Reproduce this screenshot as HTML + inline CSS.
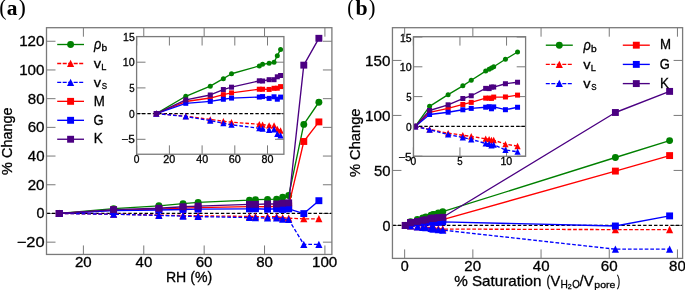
<!DOCTYPE html>
<html><head><meta charset="utf-8"><style>
html,body{margin:0;padding:0;background:#fff;}
body{width:685px;height:290px;overflow:hidden;}
svg{display:block;will-change:transform;font-family:"Liberation Sans",sans-serif;}
text{stroke:#000;stroke-width:0.3px;}
text.n{stroke:none;}
</style></head><body>
<svg width="685" height="290" viewBox="0 0 685 290">
<rect width="685" height="290" fill="#fff"/>
<defs><clipPath id="ca"><rect x="46.5" y="27.7" width="285.4" height="226.75"/></clipPath><clipPath id="cia"><rect x="136.6" y="36.6" width="147.3" height="117.65"/></clipPath><clipPath id="cb"><rect x="392.45" y="27.7" width="290.15" height="230.7"/></clipPath><clipPath id="cib"><rect x="413.5" y="36.7" width="112.1" height="119.6"/></clipPath></defs>
<line x1="83.4" y1="254.45" x2="83.4" y2="245.45" stroke="#7a7a7a" stroke-width="1"/><line x1="83.4" y1="27.7" x2="83.4" y2="36.7" stroke="#7a7a7a" stroke-width="1"/><line x1="143.78" y1="254.45" x2="143.78" y2="245.45" stroke="#7a7a7a" stroke-width="1"/><line x1="143.78" y1="27.7" x2="143.78" y2="36.7" stroke="#7a7a7a" stroke-width="1"/><line x1="204.16" y1="254.45" x2="204.16" y2="245.45" stroke="#7a7a7a" stroke-width="1"/><line x1="204.16" y1="27.7" x2="204.16" y2="36.7" stroke="#7a7a7a" stroke-width="1"/><line x1="264.54" y1="254.45" x2="264.54" y2="245.45" stroke="#7a7a7a" stroke-width="1"/><line x1="264.54" y1="27.7" x2="264.54" y2="36.7" stroke="#7a7a7a" stroke-width="1"/><line x1="324.92" y1="254.45" x2="324.92" y2="245.45" stroke="#7a7a7a" stroke-width="1"/><line x1="324.92" y1="27.7" x2="324.92" y2="36.7" stroke="#7a7a7a" stroke-width="1"/><line x1="46.5" y1="242.16" x2="55.5" y2="242.16" stroke="#7a7a7a" stroke-width="1"/><line x1="331.9" y1="242.16" x2="322.9" y2="242.16" stroke="#7a7a7a" stroke-width="1"/><line x1="46.5" y1="213.46" x2="55.5" y2="213.46" stroke="#7a7a7a" stroke-width="1"/><line x1="331.9" y1="213.46" x2="322.9" y2="213.46" stroke="#7a7a7a" stroke-width="1"/><line x1="46.5" y1="184.76" x2="55.5" y2="184.76" stroke="#7a7a7a" stroke-width="1"/><line x1="331.9" y1="184.76" x2="322.9" y2="184.76" stroke="#7a7a7a" stroke-width="1"/><line x1="46.5" y1="156.06" x2="55.5" y2="156.06" stroke="#7a7a7a" stroke-width="1"/><line x1="331.9" y1="156.06" x2="322.9" y2="156.06" stroke="#7a7a7a" stroke-width="1"/><line x1="46.5" y1="127.36" x2="55.5" y2="127.36" stroke="#7a7a7a" stroke-width="1"/><line x1="331.9" y1="127.36" x2="322.9" y2="127.36" stroke="#7a7a7a" stroke-width="1"/><line x1="46.5" y1="98.66" x2="55.5" y2="98.66" stroke="#7a7a7a" stroke-width="1"/><line x1="331.9" y1="98.66" x2="322.9" y2="98.66" stroke="#7a7a7a" stroke-width="1"/><line x1="46.5" y1="69.96" x2="55.5" y2="69.96" stroke="#7a7a7a" stroke-width="1"/><line x1="331.9" y1="69.96" x2="322.9" y2="69.96" stroke="#7a7a7a" stroke-width="1"/><line x1="46.5" y1="41.26" x2="55.5" y2="41.26" stroke="#7a7a7a" stroke-width="1"/><line x1="331.9" y1="41.26" x2="322.9" y2="41.26" stroke="#7a7a7a" stroke-width="1"/><g clip-path="url(#ca)"><line x1="46.5" y1="213.46" x2="331.9" y2="213.46" stroke="#000" stroke-width="1.3" stroke-dasharray="3.4 2.05"/><polyline points="59.25,213.46 113.59,208.62 158.88,205.81 183.03,203.7 198.12,202.34 249.45,200.14 255.48,199.7 267.56,199.4 276.62,199.11 282.65,197.3 288.69,195.54 303.79,124.4 318.88,102.25" fill="none" stroke="#008000" stroke-width="1.35" stroke-linejoin="round"/><circle cx="59.25" cy="213.46" r="3.45" fill="#008000"/><circle cx="113.59" cy="208.62" r="3.45" fill="#008000"/><circle cx="158.88" cy="205.81" r="3.45" fill="#008000"/><circle cx="183.03" cy="203.7" r="3.45" fill="#008000"/><circle cx="198.12" cy="202.34" r="3.45" fill="#008000"/><circle cx="249.45" cy="200.14" r="3.45" fill="#008000"/><circle cx="255.48" cy="199.7" r="3.45" fill="#008000"/><circle cx="267.56" cy="199.4" r="3.45" fill="#008000"/><circle cx="276.62" cy="199.11" r="3.45" fill="#008000"/><circle cx="282.65" cy="197.3" r="3.45" fill="#008000"/><circle cx="288.69" cy="195.54" r="3.45" fill="#008000"/><circle cx="303.79" cy="124.4" r="3.45" fill="#008000"/><circle cx="318.88" cy="102.25" r="3.45" fill="#008000"/><polyline points="59.25,213.46 113.59,214.18 158.88,215.1 183.03,215.58 198.12,215.86 249.45,216.44 255.48,216.56 267.56,216.76 276.62,216.76 282.65,217.74 288.69,218.21 303.79,218.84 318.88,218.84" fill="none" stroke="#ff0000" stroke-width="1.35" stroke-linejoin="round" stroke-dasharray="3.7 1.9"/><path d="M59.25 209.69L55.66 216.98L62.84 216.98Z" fill="#ff0000"/><path d="M113.59 210.41L110 217.69L117.18 217.69Z" fill="#ff0000"/><path d="M158.88 211.33L155.29 218.61L162.46 218.61Z" fill="#ff0000"/><path d="M183.03 211.82L179.44 219.1L186.62 219.1Z" fill="#ff0000"/><path d="M198.12 212.09L194.53 219.37L201.71 219.37Z" fill="#ff0000"/><path d="M249.45 212.68L245.86 219.96L253.03 219.96Z" fill="#ff0000"/><path d="M255.48 212.79L251.9 220.08L259.07 220.08Z" fill="#ff0000"/><path d="M267.56 212.99L263.97 220.28L271.15 220.28Z" fill="#ff0000"/><path d="M276.62 212.99L273.03 220.28L280.2 220.28Z" fill="#ff0000"/><path d="M282.65 213.97L279.07 221.25L286.24 221.25Z" fill="#ff0000"/><path d="M288.69 214.44L285.1 221.73L292.28 221.73Z" fill="#ff0000"/><path d="M303.79 215.07L300.2 222.36L307.38 222.36Z" fill="#ff0000"/><path d="M318.88 215.07L315.29 222.36L322.47 222.36Z" fill="#ff0000"/><polyline points="59.25,213.46 113.59,214.26 158.88,215.41 183.03,216.13 198.12,216.59 249.45,217.56 255.48,217.71 267.56,218.05 276.62,217.87 282.65,219.13 288.69,219.57 303.79,244.4 318.88,244.4" fill="none" stroke="#0000ff" stroke-width="1.35" stroke-linejoin="round" stroke-dasharray="3.7 1.9"/><path d="M59.25 209.69L55.66 216.98L62.84 216.98Z" fill="#0000ff"/><path d="M113.59 210.5L110 217.78L117.18 217.78Z" fill="#0000ff"/><path d="M158.88 211.64L155.29 218.93L162.46 218.93Z" fill="#0000ff"/><path d="M183.03 212.36L179.44 219.65L186.62 219.65Z" fill="#0000ff"/><path d="M198.12 212.82L194.53 220.1L201.71 220.1Z" fill="#0000ff"/><path d="M249.45 213.8L245.86 221.08L253.03 221.08Z" fill="#0000ff"/><path d="M255.48 213.94L251.9 221.22L259.07 221.22Z" fill="#0000ff"/><path d="M267.56 214.28L263.97 221.57L271.15 221.57Z" fill="#0000ff"/><path d="M276.62 214.1L273.03 221.38L280.2 221.38Z" fill="#0000ff"/><path d="M282.65 215.36L279.07 222.64L286.24 222.64Z" fill="#0000ff"/><path d="M288.69 215.81L285.1 223.09L292.28 223.09Z" fill="#0000ff"/><path d="M303.79 240.63L300.2 247.91L307.38 247.91Z" fill="#0000ff"/><path d="M318.88 240.63L315.29 247.91L322.47 247.91Z" fill="#0000ff"/><polyline points="59.25,213.46 113.59,210.09 158.88,209.11 183.03,208.18 198.12,207.68 249.45,206.66 255.48,206.66 267.56,206.72 276.62,206.4 282.65,206.37 288.69,205.93 303.79,141.49 318.88,121.91" fill="none" stroke="#ff0000" stroke-width="1.35" stroke-linejoin="round"/><rect x="55.8" y="210.01" width="6.9" height="6.9" fill="#ff0000"/><rect x="110.14" y="206.64" width="6.9" height="6.9" fill="#ff0000"/><rect x="155.43" y="205.66" width="6.9" height="6.9" fill="#ff0000"/><rect x="179.58" y="204.73" width="6.9" height="6.9" fill="#ff0000"/><rect x="194.67" y="204.23" width="6.9" height="6.9" fill="#ff0000"/><rect x="246" y="203.21" width="6.9" height="6.9" fill="#ff0000"/><rect x="252.03" y="203.21" width="6.9" height="6.9" fill="#ff0000"/><rect x="264.11" y="203.27" width="6.9" height="6.9" fill="#ff0000"/><rect x="273.17" y="202.95" width="6.9" height="6.9" fill="#ff0000"/><rect x="279.2" y="202.92" width="6.9" height="6.9" fill="#ff0000"/><rect x="285.24" y="202.48" width="6.9" height="6.9" fill="#ff0000"/><rect x="300.34" y="138.04" width="6.9" height="6.9" fill="#ff0000"/><rect x="315.43" y="118.46" width="6.9" height="6.9" fill="#ff0000"/><polyline points="59.25,213.46 113.59,210.59 158.88,210.04 183.03,209.46 198.12,209.13 249.45,208.84 255.48,208.71 267.56,209.21 276.62,208.77 282.65,209.44 288.69,208.85 303.79,213.6 318.88,200.69" fill="none" stroke="#0000ff" stroke-width="1.35" stroke-linejoin="round"/><rect x="55.8" y="210.01" width="6.9" height="6.9" fill="#0000ff"/><rect x="110.14" y="207.14" width="6.9" height="6.9" fill="#0000ff"/><rect x="155.43" y="206.59" width="6.9" height="6.9" fill="#0000ff"/><rect x="179.58" y="206.01" width="6.9" height="6.9" fill="#0000ff"/><rect x="194.67" y="205.68" width="6.9" height="6.9" fill="#0000ff"/><rect x="246" y="205.39" width="6.9" height="6.9" fill="#0000ff"/><rect x="252.03" y="205.26" width="6.9" height="6.9" fill="#0000ff"/><rect x="264.11" y="205.76" width="6.9" height="6.9" fill="#0000ff"/><rect x="273.17" y="205.32" width="6.9" height="6.9" fill="#0000ff"/><rect x="279.2" y="205.99" width="6.9" height="6.9" fill="#0000ff"/><rect x="285.24" y="205.4" width="6.9" height="6.9" fill="#0000ff"/><rect x="300.34" y="210.15" width="6.9" height="6.9" fill="#0000ff"/><rect x="315.43" y="197.24" width="6.9" height="6.9" fill="#0000ff"/><polyline points="59.25,213.46 113.59,209.63 158.88,208.27 183.03,206.74 198.12,206.08 249.45,204.3 255.48,204.36 267.56,203.99 276.62,203.99 282.65,203.19 288.69,202.83 303.79,65.15 318.88,38.3" fill="none" stroke="#4b0082" stroke-width="1.35" stroke-linejoin="round"/><rect x="55.8" y="210.01" width="6.9" height="6.9" fill="#4b0082"/><rect x="110.14" y="206.18" width="6.9" height="6.9" fill="#4b0082"/><rect x="155.43" y="204.82" width="6.9" height="6.9" fill="#4b0082"/><rect x="179.58" y="203.29" width="6.9" height="6.9" fill="#4b0082"/><rect x="194.67" y="202.63" width="6.9" height="6.9" fill="#4b0082"/><rect x="246" y="200.85" width="6.9" height="6.9" fill="#4b0082"/><rect x="252.03" y="200.91" width="6.9" height="6.9" fill="#4b0082"/><rect x="264.11" y="200.54" width="6.9" height="6.9" fill="#4b0082"/><rect x="273.17" y="200.54" width="6.9" height="6.9" fill="#4b0082"/><rect x="279.2" y="199.74" width="6.9" height="6.9" fill="#4b0082"/><rect x="285.24" y="199.38" width="6.9" height="6.9" fill="#4b0082"/><rect x="300.34" y="61.7" width="6.9" height="6.9" fill="#4b0082"/><rect x="315.43" y="34.85" width="6.9" height="6.9" fill="#4b0082"/></g><rect x="46.5" y="27.7" width="285.4" height="226.75" fill="none" stroke="#7a7a7a" stroke-width="1.3"/><text x="74.94" y="266.66" font-size="14.2" textLength="16.75" lengthAdjust="spacingAndGlyphs">20</text><text x="135.57" y="266.66" font-size="14.2" textLength="16.67" lengthAdjust="spacingAndGlyphs">40</text><text x="195.67" y="266.66" font-size="14.2" textLength="16.81" lengthAdjust="spacingAndGlyphs">60</text><text x="256.15" y="266.66" font-size="14.2" textLength="16.72" lengthAdjust="spacingAndGlyphs">80</text><text x="311.98" y="266.66" font-size="14.2" textLength="25.31" lengthAdjust="spacingAndGlyphs">100</text><text x="16.73" y="247.19" font-size="14.2" textLength="27.81" lengthAdjust="spacingAndGlyphs">−20</text><text x="36.49" y="218.49" font-size="14.2" textLength="7.97" lengthAdjust="spacingAndGlyphs">0</text><text x="27.74" y="189.79" font-size="14.2" textLength="16.75" lengthAdjust="spacingAndGlyphs">20</text><text x="27.82" y="161.09" font-size="14.2" textLength="16.67" lengthAdjust="spacingAndGlyphs">40</text><text x="27.68" y="132.39" font-size="14.2" textLength="16.81" lengthAdjust="spacingAndGlyphs">60</text><text x="27.77" y="103.69" font-size="14.2" textLength="16.72" lengthAdjust="spacingAndGlyphs">80</text><text x="19.18" y="74.99" font-size="14.2" textLength="25.31" lengthAdjust="spacingAndGlyphs">100</text><text x="19.18" y="46.29" font-size="14.2" textLength="25.31" lengthAdjust="spacingAndGlyphs">120</text><rect x="136.6" y="36.6" width="147.3" height="117.65" fill="#fff"/><line x1="136.7" y1="154.25" x2="136.7" y2="145.35" stroke="#7a7a7a" stroke-width="1"/><line x1="136.7" y1="36.6" x2="136.7" y2="45.5" stroke="#7a7a7a" stroke-width="1"/><line x1="169.4" y1="154.25" x2="169.4" y2="145.35" stroke="#7a7a7a" stroke-width="1"/><line x1="169.4" y1="36.6" x2="169.4" y2="45.5" stroke="#7a7a7a" stroke-width="1"/><line x1="202.1" y1="154.25" x2="202.1" y2="145.35" stroke="#7a7a7a" stroke-width="1"/><line x1="202.1" y1="36.6" x2="202.1" y2="45.5" stroke="#7a7a7a" stroke-width="1"/><line x1="234.8" y1="154.25" x2="234.8" y2="145.35" stroke="#7a7a7a" stroke-width="1"/><line x1="234.8" y1="36.6" x2="234.8" y2="45.5" stroke="#7a7a7a" stroke-width="1"/><line x1="267.5" y1="154.25" x2="267.5" y2="145.35" stroke="#7a7a7a" stroke-width="1"/><line x1="267.5" y1="36.6" x2="267.5" y2="45.5" stroke="#7a7a7a" stroke-width="1"/><line x1="136.6" y1="139.3" x2="145.5" y2="139.3" stroke="#7a7a7a" stroke-width="1"/><line x1="283.9" y1="139.3" x2="275" y2="139.3" stroke="#7a7a7a" stroke-width="1"/><line x1="136.6" y1="113.6" x2="145.5" y2="113.6" stroke="#7a7a7a" stroke-width="1"/><line x1="283.9" y1="113.6" x2="275" y2="113.6" stroke="#7a7a7a" stroke-width="1"/><line x1="136.6" y1="87.9" x2="145.5" y2="87.9" stroke="#7a7a7a" stroke-width="1"/><line x1="283.9" y1="87.9" x2="275" y2="87.9" stroke="#7a7a7a" stroke-width="1"/><line x1="136.6" y1="62.2" x2="145.5" y2="62.2" stroke="#7a7a7a" stroke-width="1"/><line x1="283.9" y1="62.2" x2="275" y2="62.2" stroke="#7a7a7a" stroke-width="1"/><line x1="136.6" y1="36.5" x2="145.5" y2="36.5" stroke="#7a7a7a" stroke-width="1"/><line x1="283.9" y1="36.5" x2="275" y2="36.5" stroke="#7a7a7a" stroke-width="1"/><g clip-path="url(#cia)"><line x1="136.6" y1="113.6" x2="283.9" y2="113.6" stroke="#000" stroke-width="1.1" stroke-dasharray="3.4 2"/><polyline points="156.32,113.6 185.75,96.28 210.27,86.2 223.35,78.65 231.53,73.76 259.32,65.9 262.59,64.31 269.13,63.23 274.04,62.2 277.31,55.72 280.58,49.4" fill="none" stroke="#008000" stroke-width="1.35" stroke-linejoin="round"/><circle cx="156.32" cy="113.6" r="2.5" fill="#008000"/><circle cx="185.75" cy="96.28" r="2.5" fill="#008000"/><circle cx="210.27" cy="86.2" r="2.5" fill="#008000"/><circle cx="223.35" cy="78.65" r="2.5" fill="#008000"/><circle cx="231.53" cy="73.76" r="2.5" fill="#008000"/><circle cx="259.32" cy="65.9" r="2.5" fill="#008000"/><circle cx="262.59" cy="64.31" r="2.5" fill="#008000"/><circle cx="269.13" cy="63.23" r="2.5" fill="#008000"/><circle cx="274.04" cy="62.2" r="2.5" fill="#008000"/><circle cx="277.31" cy="55.72" r="2.5" fill="#008000"/><circle cx="280.58" cy="49.4" r="2.5" fill="#008000"/><polyline points="156.32,113.6 185.75,116.17 210.27,119.46 223.35,121.21 231.53,122.18 259.32,124.29 262.59,124.7 269.13,125.42 274.04,125.42 277.31,128.92 280.58,130.61" fill="none" stroke="#ff0000" stroke-width="1.35" stroke-linejoin="round" stroke-dasharray="3.6 2.0"/><path d="M156.32 110.32L153.2 116.66L159.44 116.66Z" fill="#ff0000"/><path d="M185.75 112.89L182.63 119.23L188.87 119.23Z" fill="#ff0000"/><path d="M210.27 116.18L207.15 122.52L213.39 122.52Z" fill="#ff0000"/><path d="M223.35 117.93L220.23 124.26L226.47 124.26Z" fill="#ff0000"/><path d="M231.53 118.91L228.41 125.24L234.65 125.24Z" fill="#ff0000"/><path d="M259.32 121.02L256.2 127.35L262.44 127.35Z" fill="#ff0000"/><path d="M262.59 121.43L259.47 127.76L265.71 127.76Z" fill="#ff0000"/><path d="M269.13 122.15L266.01 128.48L272.25 128.48Z" fill="#ff0000"/><path d="M274.04 122.15L270.92 128.48L277.16 128.48Z" fill="#ff0000"/><path d="M277.31 125.64L274.19 131.97L280.43 131.97Z" fill="#ff0000"/><path d="M280.58 127.34L277.46 133.67L283.7 133.67Z" fill="#ff0000"/><polyline points="156.32,113.6 185.75,116.48 210.27,120.59 223.35,123.16 231.53,124.81 259.32,128.3 262.59,128.81 269.13,130.05 274.04,129.38 277.31,133.9 280.58,135.5" fill="none" stroke="#0000ff" stroke-width="1.35" stroke-linejoin="round" stroke-dasharray="3.6 2.0"/><path d="M156.32 110.32L153.2 116.66L159.44 116.66Z" fill="#0000ff"/><path d="M185.75 113.2L182.63 119.54L188.87 119.54Z" fill="#0000ff"/><path d="M210.27 117.31L207.15 123.65L213.39 123.65Z" fill="#0000ff"/><path d="M223.35 119.88L220.23 126.22L226.47 126.22Z" fill="#0000ff"/><path d="M231.53 121.53L228.41 127.86L234.65 127.86Z" fill="#0000ff"/><path d="M259.32 125.02L256.2 131.36L262.44 131.36Z" fill="#0000ff"/><path d="M262.59 125.54L259.47 131.87L265.71 131.87Z" fill="#0000ff"/><path d="M269.13 126.77L266.01 133.11L272.25 133.11Z" fill="#0000ff"/><path d="M274.04 126.1L270.92 132.44L277.16 132.44Z" fill="#0000ff"/><path d="M277.31 130.63L274.19 136.96L280.43 136.96Z" fill="#0000ff"/><path d="M280.58 132.22L277.46 138.55L283.7 138.55Z" fill="#0000ff"/><polyline points="156.32,113.6 185.75,101.52 210.27,98.03 223.35,94.68 231.53,92.89 259.32,89.24 262.59,89.24 269.13,89.44 274.04,88.31 277.31,88.21 280.58,86.61" fill="none" stroke="#ff0000" stroke-width="1.35" stroke-linejoin="round"/><rect x="153.82" y="111.1" width="5" height="5" fill="#ff0000"/><rect x="183.25" y="99.02" width="5" height="5" fill="#ff0000"/><rect x="207.77" y="95.53" width="5" height="5" fill="#ff0000"/><rect x="220.85" y="92.18" width="5" height="5" fill="#ff0000"/><rect x="229.03" y="90.39" width="5" height="5" fill="#ff0000"/><rect x="256.82" y="86.74" width="5" height="5" fill="#ff0000"/><rect x="260.09" y="86.74" width="5" height="5" fill="#ff0000"/><rect x="266.63" y="86.94" width="5" height="5" fill="#ff0000"/><rect x="271.54" y="85.81" width="5" height="5" fill="#ff0000"/><rect x="274.81" y="85.71" width="5" height="5" fill="#ff0000"/><rect x="278.08" y="84.11" width="5" height="5" fill="#ff0000"/><polyline points="156.32,113.6 185.75,103.32 210.27,101.37 223.35,99.26 231.53,98.08 259.32,97.05 262.59,96.59 269.13,98.39 274.04,96.79 277.31,99.21 280.58,97.1" fill="none" stroke="#0000ff" stroke-width="1.35" stroke-linejoin="round"/><rect x="153.82" y="111.1" width="5" height="5" fill="#0000ff"/><rect x="183.25" y="100.82" width="5" height="5" fill="#0000ff"/><rect x="207.77" y="98.87" width="5" height="5" fill="#0000ff"/><rect x="220.85" y="96.76" width="5" height="5" fill="#0000ff"/><rect x="229.03" y="95.58" width="5" height="5" fill="#0000ff"/><rect x="256.82" y="94.55" width="5" height="5" fill="#0000ff"/><rect x="260.09" y="94.09" width="5" height="5" fill="#0000ff"/><rect x="266.63" y="95.89" width="5" height="5" fill="#0000ff"/><rect x="271.54" y="94.29" width="5" height="5" fill="#0000ff"/><rect x="274.81" y="96.71" width="5" height="5" fill="#0000ff"/><rect x="278.08" y="94.6" width="5" height="5" fill="#0000ff"/><polyline points="156.32,113.6 185.75,99.88 210.27,94.99 223.35,89.54 231.53,87.18 259.32,80.81 262.59,81.01 269.13,79.68 274.04,79.68 277.31,76.8 280.58,75.51" fill="none" stroke="#4b0082" stroke-width="1.35" stroke-linejoin="round"/><rect x="153.82" y="111.1" width="5" height="5" fill="#4b0082"/><rect x="183.25" y="97.38" width="5" height="5" fill="#4b0082"/><rect x="207.77" y="92.49" width="5" height="5" fill="#4b0082"/><rect x="220.85" y="87.04" width="5" height="5" fill="#4b0082"/><rect x="229.03" y="84.68" width="5" height="5" fill="#4b0082"/><rect x="256.82" y="78.31" width="5" height="5" fill="#4b0082"/><rect x="260.09" y="78.51" width="5" height="5" fill="#4b0082"/><rect x="266.63" y="77.18" width="5" height="5" fill="#4b0082"/><rect x="271.54" y="77.18" width="5" height="5" fill="#4b0082"/><rect x="274.81" y="74.3" width="5" height="5" fill="#4b0082"/><rect x="278.08" y="73.01" width="5" height="5" fill="#4b0082"/></g><rect x="136.6" y="36.6" width="147.3" height="117.65" fill="none" stroke="#7a7a7a" stroke-width="1.3"/><text x="133.86" y="162.94" font-size="10.3" textLength="5.69" lengthAdjust="spacingAndGlyphs">0</text><text x="163.37" y="162.94" font-size="10.3" textLength="11.95" lengthAdjust="spacingAndGlyphs">20</text><text x="196.24" y="162.94" font-size="10.3" textLength="11.89" lengthAdjust="spacingAndGlyphs">40</text><text x="228.74" y="162.94" font-size="10.3" textLength="11.99" lengthAdjust="spacingAndGlyphs">60</text><text x="261.51" y="162.94" font-size="10.3" textLength="11.93" lengthAdjust="spacingAndGlyphs">80</text><text x="121.29" y="143.35" font-size="10.3" textLength="13.5" lengthAdjust="spacingAndGlyphs">−5</text><text x="129.01" y="117.65" font-size="10.3" textLength="5.69" lengthAdjust="spacingAndGlyphs">0</text><text x="129.34" y="91.95" font-size="10.3" textLength="5.37" lengthAdjust="spacingAndGlyphs">5</text><text x="122.85" y="66.25" font-size="10.3" textLength="11.86" lengthAdjust="spacingAndGlyphs">10</text><text x="123.07" y="40.55" font-size="10.3" textLength="11.67" lengthAdjust="spacingAndGlyphs">15</text>
<line x1="57.2" y1="44.5" x2="84" y2="44.5" stroke="#008000" stroke-width="1.35"/><circle cx="70.6" cy="44.5" r="3.45" fill="#008000"/>
<text x="94.11" y="48.8" font-size="13.9" textLength="7.28" lengthAdjust="spacingAndGlyphs" font-style="italic">ρ</text><text x="101.64" y="50.8" font-size="9.4" textLength="5.69" lengthAdjust="spacingAndGlyphs">b</text>
<line x1="57.2" y1="63.45" x2="84" y2="63.45" stroke="#ff0000" stroke-width="1.35" stroke-dasharray="4 1.5"/><path d="M70.6 59.68L67.01 66.97L74.19 66.97Z" fill="#ff0000"/>
<text x="93.75" y="67.9" font-size="13.6" textLength="7.3" lengthAdjust="spacingAndGlyphs">v</text><text x="101.34" y="70.1" font-size="9.2" textLength="5.17" lengthAdjust="spacingAndGlyphs">L</text>
<line x1="57.2" y1="82.4" x2="84" y2="82.4" stroke="#0000ff" stroke-width="1.35" stroke-dasharray="4 1.5"/><path d="M70.6 78.63L67.01 85.92L74.19 85.92Z" fill="#0000ff"/>
<text x="93.75" y="86.85" font-size="13.6" textLength="7.3" lengthAdjust="spacingAndGlyphs">v</text><text x="101.74" y="89.05" font-size="9.2" textLength="5.33" lengthAdjust="spacingAndGlyphs">S</text>
<line x1="57.2" y1="101.35" x2="84" y2="101.35" stroke="#ff0000" stroke-width="1.35"/><rect x="67.15" y="97.9" width="6.9" height="6.9" fill="#ff0000"/>
<text x="93.71" y="105.55" font-size="14" textLength="11.05" lengthAdjust="spacingAndGlyphs">M</text>
<line x1="57.2" y1="120.3" x2="84" y2="120.3" stroke="#0000ff" stroke-width="1.35"/><rect x="67.15" y="116.85" width="6.9" height="6.9" fill="#0000ff"/>
<text x="93.59" y="124.5" font-size="14" textLength="10.09" lengthAdjust="spacingAndGlyphs">G</text>
<line x1="57.2" y1="139.25" x2="84" y2="139.25" stroke="#4b0082" stroke-width="1.35"/><rect x="67.15" y="135.8" width="6.9" height="6.9" fill="#4b0082"/>
<text x="93.7" y="143.45" font-size="14" textLength="8.95" lengthAdjust="spacingAndGlyphs">K</text>
<line x1="404.65" y1="258.4" x2="404.65" y2="249.4" stroke="#7a7a7a" stroke-width="1"/><line x1="404.65" y1="27.7" x2="404.65" y2="36.7" stroke="#7a7a7a" stroke-width="1"/><line x1="472.85" y1="258.4" x2="472.85" y2="249.4" stroke="#7a7a7a" stroke-width="1"/><line x1="472.85" y1="27.7" x2="472.85" y2="36.7" stroke="#7a7a7a" stroke-width="1"/><line x1="541.05" y1="258.4" x2="541.05" y2="249.4" stroke="#7a7a7a" stroke-width="1"/><line x1="541.05" y1="27.7" x2="541.05" y2="36.7" stroke="#7a7a7a" stroke-width="1"/><line x1="609.25" y1="258.4" x2="609.25" y2="249.4" stroke="#7a7a7a" stroke-width="1"/><line x1="609.25" y1="27.7" x2="609.25" y2="36.7" stroke="#7a7a7a" stroke-width="1"/><line x1="677.45" y1="258.4" x2="677.45" y2="249.4" stroke="#7a7a7a" stroke-width="1"/><line x1="677.45" y1="27.7" x2="677.45" y2="36.7" stroke="#7a7a7a" stroke-width="1"/><line x1="392.45" y1="225.43" x2="401.45" y2="225.43" stroke="#7a7a7a" stroke-width="1"/><line x1="682.6" y1="225.43" x2="673.6" y2="225.43" stroke="#7a7a7a" stroke-width="1"/><line x1="392.45" y1="170.43" x2="401.45" y2="170.43" stroke="#7a7a7a" stroke-width="1"/><line x1="682.6" y1="170.43" x2="673.6" y2="170.43" stroke="#7a7a7a" stroke-width="1"/><line x1="392.45" y1="115.43" x2="401.45" y2="115.43" stroke="#7a7a7a" stroke-width="1"/><line x1="682.6" y1="115.43" x2="673.6" y2="115.43" stroke="#7a7a7a" stroke-width="1"/><line x1="392.45" y1="60.43" x2="401.45" y2="60.43" stroke="#7a7a7a" stroke-width="1"/><line x1="682.6" y1="60.43" x2="673.6" y2="60.43" stroke="#7a7a7a" stroke-width="1"/><g clip-path="url(#cb)"><line x1="392.45" y1="225.43" x2="682.6" y2="225.43" stroke="#000" stroke-width="1.3" stroke-dasharray="3.4 2.05"/><polyline points="405.33,225.43 410.58,221.72 417.37,219.57 422.76,217.95 425.83,216.91 431.11,215.22 432.37,214.88 433.23,214.65 434.04,214.43 438.34,213.04 442.77,211.69 615.39,157.5 669.61,140.62" fill="none" stroke="#008000" stroke-width="1.35" stroke-linejoin="round"/><circle cx="405.33" cy="225.43" r="3.45" fill="#008000"/><circle cx="410.58" cy="221.72" r="3.45" fill="#008000"/><circle cx="417.37" cy="219.57" r="3.45" fill="#008000"/><circle cx="422.76" cy="217.95" r="3.45" fill="#008000"/><circle cx="425.83" cy="216.91" r="3.45" fill="#008000"/><circle cx="431.11" cy="215.22" r="3.45" fill="#008000"/><circle cx="432.37" cy="214.88" r="3.45" fill="#008000"/><circle cx="433.23" cy="214.65" r="3.45" fill="#008000"/><circle cx="434.04" cy="214.43" r="3.45" fill="#008000"/><circle cx="438.34" cy="213.04" r="3.45" fill="#008000"/><circle cx="442.77" cy="211.69" r="3.45" fill="#008000"/><circle cx="615.39" cy="157.5" r="3.45" fill="#008000"/><circle cx="669.61" cy="140.62" r="3.45" fill="#008000"/><polyline points="405.33,225.43 410.58,225.98 417.37,226.68 422.76,227.06 425.83,227.27 431.11,227.72 432.37,227.81 433.23,227.96 434.04,227.96 438.34,228.71 442.77,229.07 615.39,229.61 669.61,229.61" fill="none" stroke="#ff0000" stroke-width="1.35" stroke-linejoin="round" stroke-dasharray="3.7 1.9"/><path d="M405.33 221.66L401.74 228.95L408.92 228.95Z" fill="#ff0000"/><path d="M410.58 222.21L407 229.5L414.17 229.5Z" fill="#ff0000"/><path d="M417.37 222.92L413.78 230.2L420.96 230.2Z" fill="#ff0000"/><path d="M422.76 223.29L419.17 230.57L426.35 230.57Z" fill="#ff0000"/><path d="M425.83 223.5L422.24 230.78L429.41 230.78Z" fill="#ff0000"/><path d="M431.11 223.95L427.52 231.23L434.7 231.23Z" fill="#ff0000"/><path d="M432.37 224.04L428.79 231.32L435.96 231.32Z" fill="#ff0000"/><path d="M433.23 224.19L429.64 231.48L436.81 231.48Z" fill="#ff0000"/><path d="M434.04 224.19L430.46 231.48L437.63 231.48Z" fill="#ff0000"/><path d="M438.34 224.94L434.75 232.22L441.93 232.22Z" fill="#ff0000"/><path d="M442.77 225.3L439.19 232.59L446.36 232.59Z" fill="#ff0000"/><path d="M615.39 225.84L611.8 233.13L618.98 233.13Z" fill="#ff0000"/><path d="M669.61 225.84L666.02 233.13L673.19 233.13Z" fill="#ff0000"/><polyline points="405.33,225.43 410.58,226.05 417.37,226.93 422.76,227.48 425.83,227.83 431.11,228.58 432.37,228.69 433.23,228.95 434.04,228.81 438.34,229.78 442.77,230.12 615.39,249.19 669.61,249.19" fill="none" stroke="#0000ff" stroke-width="1.35" stroke-linejoin="round" stroke-dasharray="3.7 1.9"/><path d="M405.33 221.66L401.74 228.95L408.92 228.95Z" fill="#0000ff"/><path d="M410.58 222.28L407 229.56L414.17 229.56Z" fill="#0000ff"/><path d="M417.37 223.16L413.78 230.44L420.96 230.44Z" fill="#0000ff"/><path d="M422.76 223.71L419.17 230.99L426.35 230.99Z" fill="#0000ff"/><path d="M425.83 224.06L422.24 231.34L429.41 231.34Z" fill="#0000ff"/><path d="M431.11 224.81L427.52 232.09L434.7 232.09Z" fill="#0000ff"/><path d="M432.37 224.92L428.79 232.2L435.96 232.2Z" fill="#0000ff"/><path d="M433.23 225.18L429.64 232.47L436.81 232.47Z" fill="#0000ff"/><path d="M434.04 225.04L430.46 232.32L437.63 232.32Z" fill="#0000ff"/><path d="M438.34 226.01L434.75 233.29L441.93 233.29Z" fill="#0000ff"/><path d="M442.77 226.35L439.19 233.63L446.36 233.63Z" fill="#0000ff"/><path d="M615.39 245.42L611.8 252.71L618.98 252.71Z" fill="#0000ff"/><path d="M669.61 245.42L666.02 252.71L673.19 252.71Z" fill="#0000ff"/><polyline points="405.33,225.43 410.58,222.84 417.37,222.1 422.76,221.38 425.83,221 431.11,220.22 432.37,220.22 433.23,220.26 434.04,220.02 438.34,220 442.77,219.66 615.39,171.09 669.61,155.58" fill="none" stroke="#ff0000" stroke-width="1.35" stroke-linejoin="round"/><rect x="401.88" y="221.98" width="6.9" height="6.9" fill="#ff0000"/><rect x="407.13" y="219.4" width="6.9" height="6.9" fill="#ff0000"/><rect x="413.92" y="218.65" width="6.9" height="6.9" fill="#ff0000"/><rect x="419.31" y="217.93" width="6.9" height="6.9" fill="#ff0000"/><rect x="422.38" y="217.55" width="6.9" height="6.9" fill="#ff0000"/><rect x="427.66" y="216.77" width="6.9" height="6.9" fill="#ff0000"/><rect x="428.92" y="216.77" width="6.9" height="6.9" fill="#ff0000"/><rect x="429.78" y="216.81" width="6.9" height="6.9" fill="#ff0000"/><rect x="430.59" y="216.57" width="6.9" height="6.9" fill="#ff0000"/><rect x="434.89" y="216.55" width="6.9" height="6.9" fill="#ff0000"/><rect x="439.32" y="216.21" width="6.9" height="6.9" fill="#ff0000"/><rect x="611.94" y="167.64" width="6.9" height="6.9" fill="#ff0000"/><rect x="666.16" y="152.13" width="6.9" height="6.9" fill="#ff0000"/><polyline points="405.33,225.43 410.58,223.23 417.37,222.81 422.76,222.36 425.83,222.11 431.11,221.89 432.37,221.79 433.23,222.17 434.04,221.83 438.34,222.35 442.77,221.9 615.39,225.98 669.61,215.9" fill="none" stroke="#0000ff" stroke-width="1.35" stroke-linejoin="round"/><rect x="401.88" y="221.98" width="6.9" height="6.9" fill="#0000ff"/><rect x="407.13" y="219.78" width="6.9" height="6.9" fill="#0000ff"/><rect x="413.92" y="219.36" width="6.9" height="6.9" fill="#0000ff"/><rect x="419.31" y="218.91" width="6.9" height="6.9" fill="#0000ff"/><rect x="422.38" y="218.66" width="6.9" height="6.9" fill="#0000ff"/><rect x="427.66" y="218.44" width="6.9" height="6.9" fill="#0000ff"/><rect x="428.92" y="218.34" width="6.9" height="6.9" fill="#0000ff"/><rect x="429.78" y="218.72" width="6.9" height="6.9" fill="#0000ff"/><rect x="430.59" y="218.38" width="6.9" height="6.9" fill="#0000ff"/><rect x="434.89" y="218.9" width="6.9" height="6.9" fill="#0000ff"/><rect x="439.32" y="218.45" width="6.9" height="6.9" fill="#0000ff"/><rect x="611.94" y="222.53" width="6.9" height="6.9" fill="#0000ff"/><rect x="666.16" y="212.45" width="6.9" height="6.9" fill="#0000ff"/><polyline points="405.33,225.43 410.58,222.49 417.37,221.45 422.76,220.28 425.83,219.78 431.11,218.41 432.37,218.46 433.23,218.17 434.04,218.17 438.34,217.55 442.77,217.28 615.39,112.5 669.61,91.4" fill="none" stroke="#4b0082" stroke-width="1.35" stroke-linejoin="round"/><rect x="401.88" y="221.98" width="6.9" height="6.9" fill="#4b0082"/><rect x="407.13" y="219.04" width="6.9" height="6.9" fill="#4b0082"/><rect x="413.92" y="218" width="6.9" height="6.9" fill="#4b0082"/><rect x="419.31" y="216.83" width="6.9" height="6.9" fill="#4b0082"/><rect x="422.38" y="216.33" width="6.9" height="6.9" fill="#4b0082"/><rect x="427.66" y="214.96" width="6.9" height="6.9" fill="#4b0082"/><rect x="428.92" y="215.01" width="6.9" height="6.9" fill="#4b0082"/><rect x="429.78" y="214.72" width="6.9" height="6.9" fill="#4b0082"/><rect x="430.59" y="214.72" width="6.9" height="6.9" fill="#4b0082"/><rect x="434.89" y="214.1" width="6.9" height="6.9" fill="#4b0082"/><rect x="439.32" y="213.83" width="6.9" height="6.9" fill="#4b0082"/><rect x="611.94" y="109.05" width="6.9" height="6.9" fill="#4b0082"/><rect x="666.16" y="87.95" width="6.9" height="6.9" fill="#4b0082"/></g><rect x="392.45" y="27.7" width="290.15" height="230.7" fill="none" stroke="#7a7a7a" stroke-width="1.3"/><text x="400.66" y="270.61" font-size="14.2" textLength="7.97" lengthAdjust="spacingAndGlyphs">0</text><text x="464.39" y="270.61" font-size="14.2" textLength="16.75" lengthAdjust="spacingAndGlyphs">20</text><text x="532.84" y="270.61" font-size="14.2" textLength="16.67" lengthAdjust="spacingAndGlyphs">40</text><text x="600.76" y="270.61" font-size="14.2" textLength="16.81" lengthAdjust="spacingAndGlyphs">60</text><text x="669.06" y="270.61" font-size="14.2" textLength="16.72" lengthAdjust="spacingAndGlyphs">80</text><text x="382.44" y="231.26" font-size="14.2" textLength="7.97" lengthAdjust="spacingAndGlyphs">0</text><text x="373.9" y="176.26" font-size="14.2" textLength="16.53" lengthAdjust="spacingAndGlyphs">50</text><text x="365.13" y="121.26" font-size="14.2" textLength="25.31" lengthAdjust="spacingAndGlyphs">100</text><text x="365.13" y="66.26" font-size="14.2" textLength="25.31" lengthAdjust="spacingAndGlyphs">150</text><rect x="413.5" y="36.7" width="112.1" height="119.6" fill="#fff"/><line x1="413.35" y1="156.3" x2="413.35" y2="147.4" stroke="#7a7a7a" stroke-width="1"/><line x1="413.35" y1="36.7" x2="413.35" y2="45.6" stroke="#7a7a7a" stroke-width="1"/><line x1="459.95" y1="156.3" x2="459.95" y2="147.4" stroke="#7a7a7a" stroke-width="1"/><line x1="459.95" y1="36.7" x2="459.95" y2="45.6" stroke="#7a7a7a" stroke-width="1"/><line x1="506.55" y1="156.3" x2="506.55" y2="147.4" stroke="#7a7a7a" stroke-width="1"/><line x1="506.55" y1="36.7" x2="506.55" y2="45.6" stroke="#7a7a7a" stroke-width="1"/><line x1="413.5" y1="156.2" x2="422.4" y2="156.2" stroke="#7a7a7a" stroke-width="1"/><line x1="525.6" y1="156.2" x2="516.7" y2="156.2" stroke="#7a7a7a" stroke-width="1"/><line x1="413.5" y1="126.4" x2="422.4" y2="126.4" stroke="#7a7a7a" stroke-width="1"/><line x1="525.6" y1="126.4" x2="516.7" y2="126.4" stroke="#7a7a7a" stroke-width="1"/><line x1="413.5" y1="96.6" x2="422.4" y2="96.6" stroke="#7a7a7a" stroke-width="1"/><line x1="525.6" y1="96.6" x2="516.7" y2="96.6" stroke="#7a7a7a" stroke-width="1"/><line x1="413.5" y1="66.8" x2="422.4" y2="66.8" stroke="#7a7a7a" stroke-width="1"/><line x1="525.6" y1="66.8" x2="516.7" y2="66.8" stroke="#7a7a7a" stroke-width="1"/><line x1="413.5" y1="37" x2="422.4" y2="37" stroke="#7a7a7a" stroke-width="1"/><line x1="525.6" y1="37" x2="516.7" y2="37" stroke="#7a7a7a" stroke-width="1"/><g clip-path="url(#cib)"><line x1="413.5" y1="126.4" x2="525.6" y2="126.4" stroke="#000" stroke-width="1.1" stroke-dasharray="3.4 2"/><polyline points="415.21,126.4 429.57,106.31 448.11,94.63 462.84,85.87 471.23,80.21 485.67,71.09 489.12,69.24 491.45,67.99 493.69,66.8 505.43,59.29 517.55,51.96" fill="none" stroke="#008000" stroke-width="1.35" stroke-linejoin="round"/><circle cx="415.21" cy="126.4" r="2.5" fill="#008000"/><circle cx="429.57" cy="106.31" r="2.5" fill="#008000"/><circle cx="448.11" cy="94.63" r="2.5" fill="#008000"/><circle cx="462.84" cy="85.87" r="2.5" fill="#008000"/><circle cx="471.23" cy="80.21" r="2.5" fill="#008000"/><circle cx="485.67" cy="71.09" r="2.5" fill="#008000"/><circle cx="489.12" cy="69.24" r="2.5" fill="#008000"/><circle cx="491.45" cy="67.99" r="2.5" fill="#008000"/><circle cx="493.69" cy="66.8" r="2.5" fill="#008000"/><circle cx="505.43" cy="59.29" r="2.5" fill="#008000"/><circle cx="517.55" cy="51.96" r="2.5" fill="#008000"/><polyline points="415.21,126.4 429.57,129.38 448.11,133.19 462.84,135.22 471.23,136.35 485.67,138.8 489.12,139.27 491.45,140.11 493.69,140.11 505.43,144.16 517.55,146.13" fill="none" stroke="#ff0000" stroke-width="1.35" stroke-linejoin="round" stroke-dasharray="3.6 2.0"/><path d="M415.21 123.12L412.09 129.46L418.33 129.46Z" fill="#ff0000"/><path d="M429.57 126.1L426.45 132.44L432.69 132.44Z" fill="#ff0000"/><path d="M448.11 129.92L444.99 136.25L451.23 136.25Z" fill="#ff0000"/><path d="M462.84 131.94L459.72 138.28L465.96 138.28Z" fill="#ff0000"/><path d="M471.23 133.08L468.11 139.41L474.35 139.41Z" fill="#ff0000"/><path d="M485.67 135.52L482.55 141.85L488.79 141.85Z" fill="#ff0000"/><path d="M489.12 136L486 142.33L492.24 142.33Z" fill="#ff0000"/><path d="M491.45 136.83L488.33 143.17L494.57 143.17Z" fill="#ff0000"/><path d="M493.69 136.83L490.57 143.17L496.81 143.17Z" fill="#ff0000"/><path d="M505.43 140.88L502.31 147.22L508.55 147.22Z" fill="#ff0000"/><path d="M517.55 142.85L514.43 149.19L520.67 149.19Z" fill="#ff0000"/><polyline points="415.21,126.4 429.57,129.74 448.11,134.51 462.84,137.49 471.23,139.39 485.67,143.45 489.12,144.04 491.45,145.47 493.69,144.7 505.43,149.94 517.55,151.79" fill="none" stroke="#0000ff" stroke-width="1.35" stroke-linejoin="round" stroke-dasharray="3.6 2.0"/><path d="M415.21 123.12L412.09 129.46L418.33 129.46Z" fill="#0000ff"/><path d="M429.57 126.46L426.45 132.8L432.69 132.8Z" fill="#0000ff"/><path d="M448.11 131.23L444.99 137.56L451.23 137.56Z" fill="#0000ff"/><path d="M462.84 134.21L459.72 140.54L465.96 140.54Z" fill="#0000ff"/><path d="M471.23 136.12L468.11 142.45L474.35 142.45Z" fill="#0000ff"/><path d="M485.67 140.17L482.55 146.5L488.79 146.5Z" fill="#0000ff"/><path d="M489.12 140.77L486 147.1L492.24 147.1Z" fill="#0000ff"/><path d="M491.45 142.2L488.33 148.53L494.57 148.53Z" fill="#0000ff"/><path d="M493.69 141.42L490.57 147.75L496.81 147.75Z" fill="#0000ff"/><path d="M505.43 146.67L502.31 153L508.55 153Z" fill="#0000ff"/><path d="M517.55 148.51L514.43 154.85L520.67 154.85Z" fill="#0000ff"/><polyline points="415.21,126.4 429.57,112.39 448.11,108.34 462.84,104.47 471.23,102.38 485.67,98.15 489.12,98.15 491.45,98.39 493.69,97.08 505.43,96.96 517.55,95.11" fill="none" stroke="#ff0000" stroke-width="1.35" stroke-linejoin="round"/><rect x="412.71" y="123.9" width="5" height="5" fill="#ff0000"/><rect x="427.07" y="109.89" width="5" height="5" fill="#ff0000"/><rect x="445.61" y="105.84" width="5" height="5" fill="#ff0000"/><rect x="460.34" y="101.97" width="5" height="5" fill="#ff0000"/><rect x="468.73" y="99.88" width="5" height="5" fill="#ff0000"/><rect x="483.17" y="95.65" width="5" height="5" fill="#ff0000"/><rect x="486.62" y="95.65" width="5" height="5" fill="#ff0000"/><rect x="488.95" y="95.89" width="5" height="5" fill="#ff0000"/><rect x="491.19" y="94.58" width="5" height="5" fill="#ff0000"/><rect x="502.93" y="94.46" width="5" height="5" fill="#ff0000"/><rect x="515.05" y="92.61" width="5" height="5" fill="#ff0000"/><polyline points="415.21,126.4 429.57,114.48 448.11,112.22 462.84,109.77 471.23,108.4 485.67,107.21 489.12,106.67 491.45,108.76 493.69,106.91 505.43,109.71 517.55,107.27" fill="none" stroke="#0000ff" stroke-width="1.35" stroke-linejoin="round"/><rect x="412.71" y="123.9" width="5" height="5" fill="#0000ff"/><rect x="427.07" y="111.98" width="5" height="5" fill="#0000ff"/><rect x="445.61" y="109.72" width="5" height="5" fill="#0000ff"/><rect x="460.34" y="107.27" width="5" height="5" fill="#0000ff"/><rect x="468.73" y="105.9" width="5" height="5" fill="#0000ff"/><rect x="483.17" y="104.71" width="5" height="5" fill="#0000ff"/><rect x="486.62" y="104.17" width="5" height="5" fill="#0000ff"/><rect x="488.95" y="106.26" width="5" height="5" fill="#0000ff"/><rect x="491.19" y="104.41" width="5" height="5" fill="#0000ff"/><rect x="502.93" y="107.21" width="5" height="5" fill="#0000ff"/><rect x="515.05" y="104.77" width="5" height="5" fill="#0000ff"/><polyline points="415.21,126.4 429.57,110.49 448.11,104.82 462.84,98.51 471.23,95.77 485.67,88.38 489.12,88.61 491.45,87.06 493.69,87.06 505.43,83.73 517.55,82.24" fill="none" stroke="#4b0082" stroke-width="1.35" stroke-linejoin="round"/><rect x="412.71" y="123.9" width="5" height="5" fill="#4b0082"/><rect x="427.07" y="107.99" width="5" height="5" fill="#4b0082"/><rect x="445.61" y="102.32" width="5" height="5" fill="#4b0082"/><rect x="460.34" y="96.01" width="5" height="5" fill="#4b0082"/><rect x="468.73" y="93.27" width="5" height="5" fill="#4b0082"/><rect x="483.17" y="85.88" width="5" height="5" fill="#4b0082"/><rect x="486.62" y="86.11" width="5" height="5" fill="#4b0082"/><rect x="488.95" y="84.56" width="5" height="5" fill="#4b0082"/><rect x="491.19" y="84.56" width="5" height="5" fill="#4b0082"/><rect x="502.93" y="81.23" width="5" height="5" fill="#4b0082"/><rect x="515.05" y="79.74" width="5" height="5" fill="#4b0082"/></g><rect x="413.5" y="36.7" width="112.1" height="119.6" fill="none" stroke="#7a7a7a" stroke-width="1.3"/><text x="410.51" y="164.99" font-size="10.3" textLength="5.69" lengthAdjust="spacingAndGlyphs">0</text><text x="457.28" y="164.99" font-size="10.3" textLength="5.37" lengthAdjust="spacingAndGlyphs">5</text><text x="500.42" y="164.99" font-size="10.3" textLength="11.86" lengthAdjust="spacingAndGlyphs">10</text><text x="398.19" y="160.85" font-size="10.3" textLength="13.5" lengthAdjust="spacingAndGlyphs">−5</text><text x="405.91" y="131.05" font-size="10.3" textLength="5.69" lengthAdjust="spacingAndGlyphs">0</text><text x="406.24" y="101.25" font-size="10.3" textLength="5.37" lengthAdjust="spacingAndGlyphs">5</text><text x="399.75" y="71.45" font-size="10.3" textLength="11.86" lengthAdjust="spacingAndGlyphs">10</text><text x="399.97" y="41.65" font-size="10.3" textLength="11.67" lengthAdjust="spacingAndGlyphs">15</text>
<line x1="545.8" y1="45.2" x2="572.8" y2="45.2" stroke="#008000" stroke-width="1.35"/><circle cx="559.3" cy="45.2" r="3.45" fill="#008000"/>
<text x="583.51" y="49.5" font-size="13.9" textLength="7.28" lengthAdjust="spacingAndGlyphs" font-style="italic">ρ</text><text x="591.04" y="51.5" font-size="9.4" textLength="5.69" lengthAdjust="spacingAndGlyphs">b</text>
<line x1="545.8" y1="64.4" x2="572.8" y2="64.4" stroke="#ff0000" stroke-width="1.35" stroke-dasharray="4 1.5"/><path d="M559.3 60.63L555.71 67.92L562.89 67.92Z" fill="#ff0000"/>
<text x="583.15" y="68.85" font-size="13.6" textLength="7.3" lengthAdjust="spacingAndGlyphs">v</text><text x="590.74" y="71.05" font-size="9.2" textLength="5.17" lengthAdjust="spacingAndGlyphs">L</text>
<line x1="545.8" y1="83.6" x2="572.8" y2="83.6" stroke="#0000ff" stroke-width="1.35" stroke-dasharray="4 1.5"/><path d="M559.3 79.83L555.71 87.12L562.89 87.12Z" fill="#0000ff"/>
<text x="583.15" y="88.05" font-size="13.6" textLength="7.3" lengthAdjust="spacingAndGlyphs">v</text><text x="591.14" y="90.25" font-size="9.2" textLength="5.33" lengthAdjust="spacingAndGlyphs">S</text>
<line x1="622.8" y1="45.2" x2="649.8" y2="45.2" stroke="#ff0000" stroke-width="1.35"/><rect x="632.85" y="41.75" width="6.9" height="6.9" fill="#ff0000"/>
<text x="659.91" y="49.4" font-size="14" textLength="11.05" lengthAdjust="spacingAndGlyphs">M</text>
<line x1="622.8" y1="64.4" x2="649.8" y2="64.4" stroke="#0000ff" stroke-width="1.35"/><rect x="632.85" y="60.95" width="6.9" height="6.9" fill="#0000ff"/>
<text x="659.79" y="68.6" font-size="14" textLength="10.09" lengthAdjust="spacingAndGlyphs">G</text>
<line x1="622.8" y1="83.6" x2="649.8" y2="83.6" stroke="#4b0082" stroke-width="1.35"/><rect x="632.85" y="80.15" width="6.9" height="6.9" fill="#4b0082"/>
<text x="659.9" y="87.8" font-size="14" textLength="8.95" lengthAdjust="spacingAndGlyphs">K</text>
<text x="-0.76" y="15.4" font-size="23.2" textLength="7.26" lengthAdjust="spacingAndGlyphs" font-family="Liberation Serif" class="n">(</text>
<text x="6.71" y="15.4" font-size="20.7" textLength="10.71" lengthAdjust="spacingAndGlyphs" font-family="Liberation Serif" font-weight="bold" class="n">a</text>
<text x="17.93" y="15.4" font-size="23.2" textLength="7.91" lengthAdjust="spacingAndGlyphs" font-family="Liberation Serif" class="n">)</text>
<text x="347.31" y="15.3" font-size="23.2" textLength="6.74" lengthAdjust="spacingAndGlyphs" font-family="Liberation Serif" class="n">(</text>
<text x="355.42" y="15.3" font-size="20.6" textLength="12.16" lengthAdjust="spacingAndGlyphs" font-family="Liberation Serif" font-weight="bold" class="n">b</text>
<text x="368.2" y="15.3" font-size="23.2" textLength="7.26" lengthAdjust="spacingAndGlyphs" font-family="Liberation Serif" class="n">)</text>
<text x="165.94" y="281.8" font-size="14.3" textLength="46.23" lengthAdjust="spacingAndGlyphs">RH (%)</text>
<g transform="translate(12.1 0) rotate(-90)"><text x="-174.91" y="0" font-size="14.2" textLength="67.46" lengthAdjust="spacingAndGlyphs">% Change</text></g>
<g transform="translate(360.4 0) rotate(-90)"><text x="-177.12" y="0" font-size="14.2" textLength="68.58" lengthAdjust="spacingAndGlyphs">% Change</text></g>
<text x="454.16" y="285.8" font-size="14.3" textLength="87.23" lengthAdjust="spacingAndGlyphs">% Saturation</text>
<text x="546.4" y="285.8" font-size="14.3" textLength="3.77" lengthAdjust="spacingAndGlyphs">(</text>
<text x="550.54" y="285.8" font-size="14.3" textLength="9.73" lengthAdjust="spacingAndGlyphs">V</text>
<text x="560.56" y="287.7" font-size="10.8" textLength="7.37" lengthAdjust="spacingAndGlyphs">H</text>
<text x="567.65" y="289.2" font-size="7.2" textLength="3.91" lengthAdjust="spacingAndGlyphs">2</text>
<text x="572.14" y="287.7" font-size="10.8" textLength="7.52" lengthAdjust="spacingAndGlyphs">O</text>
<text x="579.6" y="285.8" font-size="14.3" textLength="14.07" lengthAdjust="spacingAndGlyphs">/V</text>
<text x="594.33" y="287.6" font-size="9.9" textLength="20.94" lengthAdjust="spacingAndGlyphs">pore</text>
<text x="617.04" y="285.8" font-size="14.3" textLength="3.14" lengthAdjust="spacingAndGlyphs">)</text>
</svg>
</body></html>
